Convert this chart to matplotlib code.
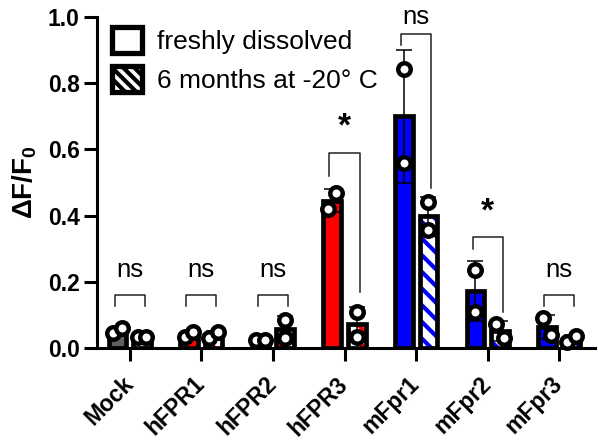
import matplotlib
matplotlib.use("Agg")
import matplotlib.pyplot as plt
from matplotlib.patches import Patch
import numpy as np

plt.rcParams['font.family'] = ['Liberation Sans', 'DejaVu Sans']
plt.rcParams['mathtext.fontset'] = 'custom'
plt.rcParams['mathtext.rm'] = 'Liberation Sans'
plt.rcParams['mathtext.bf'] = 'Liberation Sans:bold'
plt.rcParams['mathtext.default'] = 'bf'
plt.rcParams['hatch.linewidth'] = 3.0

# data
groups = ['Mock', 'hFPR1', 'hFPR2', 'hFPR3', 'mFpr1', 'mFpr2', 'mFpr3']
group_colors = ['#5f5f5f', '#ff0000', '#ff0000', '#ff0000', '#0000ff', '#0000ff', '#0000ff']

fresh_mean = [0.052, 0.040, 0.025, 0.445, 0.700, 0.172, 0.063]
aged_mean = [0.035, 0.040, 0.057, 0.071, 0.398, 0.050, 0.027]

fresh_pts = [[0.045, 0.060], [0.033, 0.048], [0.025, 0.025], [0.420, 0.468],
             [0.843, 0.559], [0.236, 0.109], [0.090, 0.040]]
aged_pts = [[0.034, 0.034], [0.030, 0.048], [0.085, 0.030], [0.109, 0.034],
            [0.440, 0.357], [0.073, 0.030], [0.018, 0.036]]

# significance brackets: label, top, left leg end, right leg end
sig_labels = ['ns', 'ns', 'ns', '*', 'ns', '*', 'ns']
sig_top = [0.160, 0.160, 0.160, 0.590, 0.949, 0.335, 0.160]
sig_left = [0.127, 0.127, 0.127, 0.520, 0.915, 0.300, 0.127]
sig_right = [0.127, 0.127, 0.127, 0.170, 0.483, 0.110, 0.127]

legend_labels = ['freshly dissolved', '6 months at -20\u00b0 C']

x = np.arange(len(groups))
off = 0.172
w = 0.245
edge_lw = 3.4

fig = plt.figure(figsize=(5.98, 4.43), dpi=100)
ax = fig.add_axes([0.162, 0.2145, 0.833, 0.747])

for i in range(len(groups)):
    c = group_colors[i]
    # fresh bar
    ax.bar(x[i] - off, fresh_mean[i], width=w, color=c, edgecolor='black',
           linewidth=edge_lw, zorder=2)
    # aged bar: colored hatch, then black outline
    ax.bar(x[i] + off, aged_mean[i], width=w, color='white', edgecolor=c,
           hatch='\\\\', linewidth=0, zorder=2)
    ax.bar(x[i] + off, aged_mean[i], width=w, fill=False, edgecolor='black',
           linewidth=edge_lw, zorder=2.1)

    for xc, m, pts in [(x[i] - off, fresh_mean[i], fresh_pts[i]),
                       (x[i] + off, aged_mean[i], aged_pts[i])]:
        sd = np.std(pts, ddof=1)
        ax.errorbar(xc, m, yerr=sd, color='black', lw=1.1, capsize=6,
                    capthick=1.1, zorder=3)
        dx = 0.06 if abs(pts[0] - pts[1]) < 0.05 else 0.0
        ax.plot([xc - dx, xc + dx], pts, 'o', ms=9, mfc='white', mec='black',
                mew=3.2, ls='none', zorder=4, clip_on=False)

    # bracket
    bl, br = x[i] - 0.21, x[i] + 0.21
    ax.plot([bl, bl, br, br], [sig_left[i], sig_top[i], sig_top[i], sig_right[i]],
            color='#222222', lw=1.1, zorder=1, clip_on=False)
    if sig_labels[i] == '*':
        ax.text(x[i], sig_top[i] + 0.03, '*', ha='center', va='bottom',
                fontsize=24, fontweight='bold')
    else:
        # keep the top label inside the figure
        ax.text(x[i], min(sig_top[i] + 0.04, 0.965), 'ns', ha='center',
                va='bottom', fontsize=18.5)

ax.set_xlim(-0.46, 6.5)
ax.set_ylim(0, 1.0)
ax.set_yticks([0, 0.2, 0.4, 0.6, 0.8, 1.0])
ax.set_yticklabels(['0.0', '0.2', '0.4', '0.6', '0.8', '1.0'])
ax.set_xticks(x)
ax.set_xticklabels(groups, rotation=45, ha='right', va='center',
                   rotation_mode='anchor')
for lab in ax.get_xticklabels():
    lab.set_fontweight('bold')
    lab.set_fontsize(16.5)
for lab in ax.get_yticklabels():
    lab.set_fontweight('bold')
    lab.set_fontsize(16.5)
ax.tick_params(axis='both', width=2.2, length=9.5, direction='out')
ax.tick_params(axis='x', pad=14)
ax.tick_params(axis='y', pad=3)
for s in ['top', 'right']:
    ax.spines[s].set_visible(False)
for s in ['left', 'bottom']:
    ax.spines[s].set_linewidth(2.2)

ax.set_ylabel(r'$\Delta$F/F$_0$', fontsize=20, fontweight='bold', labelpad=6)

handles = [Patch(facecolor='white', edgecolor='black', linewidth=3.8),
           Patch(facecolor='white', edgecolor='black', linewidth=3.8, hatch='\\\\\\')]
ax.legend(handles, legend_labels, loc='upper left', bbox_to_anchor=(0.02, 0.985),
          frameon=False, fontsize=19, handlelength=1.15, handleheight=1.15,
          labelspacing=0.45, handletextpad=0.55, borderaxespad=0.0, borderpad=0.2)

fig.savefig('out.png', dpi=100)
